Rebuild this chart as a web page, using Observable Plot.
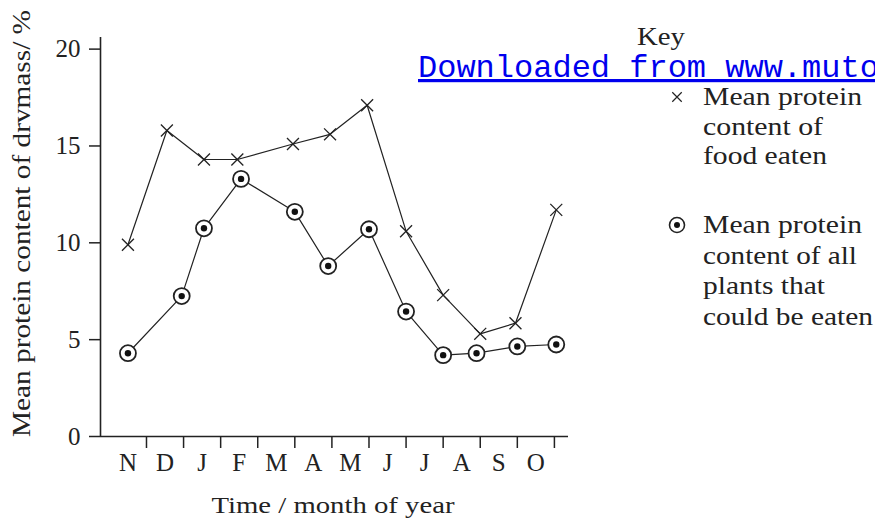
<!DOCTYPE html>
<html><head><meta charset="utf-8">
<script src="https://cdn.jsdelivr.net/npm/d3@7"></script>
<script src="https://cdn.jsdelivr.net/npm/@observablehq/plot@0.6"></script>
<style>body{margin:0;background:#fff}</style>
</head><body><div id="chart"></div>
<script>
const months = ["N","D","J","F","M","A","M","J","J","A","S","O"];
const monthCenters = [0,1,2,3,4,5,6,7,8,9,10,11];
const monthBoundaries = [0.5,1.5,2.5,3.5,4.5,5.5,6.5,7.5,8.5,9.5,10.5,11.5];
const yTicks = [0,5,10,15,20];

// Mean protein content of food eaten (x = position along month axis)
const foodPos = [0, 1.05, 2.05, 2.95, 4.45, 5.45, 6.45, 7.5, 8.5, 9.5, 10.45, 11.55];
const foodVal = [9.9, 15.8, 14.3, 14.3, 15.1, 15.6, 17.1, 10.6, 7.3, 5.3, 5.85, 11.7];
// Mean protein content of all plants that could be eaten
const plantPos = [0, 1.45, 2.05, 3.05, 4.5, 5.4, 6.5, 7.5, 8.5, 9.4, 10.5, 11.55];
const plantVal = [4.3, 7.25, 10.75, 13.3, 11.6, 8.8, 10.7, 6.45, 4.2, 4.3, 4.65, 4.75];

const keyTitle = "Key";
const foodLabel = ["Mean protein", "content of", "food eaten"];
const plantLabel = ["Mean protein", "content of all", "plants that", "could be eaten"];
const xTitle = "Time / month of year";
const yTitle = "Mean protein content of drvmass/ %";
const watermark = "Downloaded from www.muto";

const food = foodPos.map((x, i) => ({x, y: foodVal[i]}));
const plants = plantPos.map((x, i) => ({x, y: plantVal[i]}));
const ink = "#222";
const serif = "'Liberation Serif', 'Times New Roman', Times, serif";

const xDomain = [-0.74, 11.88];
const chart = Plot.plot({
  width: 875, height: 520,
  marginLeft: 100, marginRight: 307, marginTop: 37, marginBottom: 84,
  style: {fontFamily: serif, fontSize: "25px", color: ink, background: "#fff", overflow: "visible"},
  x: {domain: xDomain},
  y: {domain: [0, 20.6]},
  marks: [
    Plot.axisY({ticks: yTicks, tickSize: 11, tickPadding: 9, label: null, tickFormat: d => String(d), strokeWidth: 1.5}),
    Plot.axisX({ticks: monthBoundaries, tickSize: 12, tickFormat: () => "", label: null, strokeWidth: 1.5}),
    Plot.axisX({ticks: monthCenters, tickSize: 0, tickPadding: 17, tickFormat: i => months[i], label: null}),
    Plot.ruleY([0], {stroke: ink, strokeWidth: 1.6}),
    Plot.ruleX([xDomain[0]], {stroke: ink, strokeWidth: 1.6}),
    Plot.line(food, {x: "x", y: "y", stroke: ink, strokeWidth: 1.2}),
    Plot.dot(food, {x: "x", y: "y", symbol: "times", r: 5.5, stroke: ink, strokeWidth: 1.3}),
    Plot.line(plants, {x: "x", y: "y", stroke: ink, strokeWidth: 1.2}),
    Plot.dot(plants, {x: "x", y: "y", r: 8, fill: "#fff", stroke: ink, strokeWidth: 1.8}),
    Plot.dot(plants, {x: "x", y: "y", r: 3.2, fill: "#111", stroke: "none"})
  ]
});
document.getElementById("chart").appendChild(chart);

const svg = d3.select(chart);
function addText(t, x, y, size, len, anchor) {
  const el = svg.append("text").attr("x", x).attr("y", y)
    .style("font-family", serif).style("font-size", size + "px").style("fill", ink)
    .style("text-anchor", anchor || "start").text(t);
  if (len) el.attr("textLength", len).attr("lengthAdjust", "spacingAndGlyphs");
  return el;
}
// axis titles
addText(xTitle, 333, 513, 24, 243, "middle");
addText(yTitle, 0, 0, 26, 427, "middle").attr("transform", "translate(30,223.5) rotate(-90)");

// watermark link
svg.append("text").attr("x", 418).attr("y", 77)
  .style("font-family", "'Liberation Mono', 'Courier New', monospace").style("font-size", "32px")
  .style("text-anchor", "start")
  .style("fill", "#0000ee").style("text-decoration", "underline").text(watermark);

// legend
addText(keyTitle, 637, 45, 25, 48);
svg.append("path").attr("transform", "translate(677,97)")
  .attr("d", d3.symbol(d3.symbolTimes, 60)()).attr("stroke", ink).attr("stroke-width", 1.2).attr("fill", "none");
const foodLens = [159, 120, 124];
foodLabel.forEach((t, i) => addText(t, 703, 105 + i * 29.5, 26, foodLens[i]));
svg.append("circle").attr("cx", 677).attr("cy", 225).attr("r", 7.5).attr("fill", "#fff").attr("stroke", ink).attr("stroke-width", 1.6);
svg.append("circle").attr("cx", 677).attr("cy", 225).attr("r", 3).attr("fill", "#111");
const plantLens = [159, 154, 122, 170];
plantLabel.forEach((t, i) => addText(t, 703, 233 + i * 30.5, 26, plantLens[i]));
</script>
</body></html>
